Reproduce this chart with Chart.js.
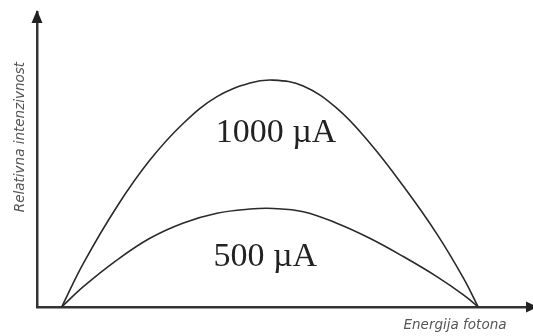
<!DOCTYPE html>
<html>
<head>
<meta charset="utf-8">
<script src="https://cdn.jsdelivr.net/npm/chart.js@4"></script>
<style>
html,body{margin:0;padding:0;background:#fff;}
#c{display:block;}
</style>
</head>
<body>
<canvas id="c" width="533" height="336"></canvas>
<script>
// Photon energy (arbitrary units)
const energy = [5.0, 9.4, 16.2, 22.9, 29.7, 36.5, 43.2, 47.9, 54.0, 60.8, 67.5, 74.3, 81.1, 86.5, 89.5];
// Relative intensity at 1000 µA
const intensity1000 = [0, 14.8, 34.0, 49.8, 62.3, 71.3, 75.9, 76.9, 74.9, 67.4, 55.6, 41.0, 24.8, 9.8, 0];
// Relative intensity at 500 µA
const intensity500 = [0, 6.9, 15.9, 23.3, 28.5, 31.8, 33.2, 33.4, 32.3, 28.4, 23.3, 17.1, 10.3, 4.1, 0];
const seriesLabels = ['1000 µA', '500 µA'];
const xTitle = 'Energija fotona';
const yTitle = 'Relativna intenzivnost';

const toPts = (xs, ys) => xs.map((x, i) => ({x: x, y: ys[i]}));

const decor = {
  id: 'decor',
  afterDraw(chart) {
    const {ctx, chartArea: a, scales: {x, y}} = chart;
    ctx.save();
    // arrows
    ctx.fillStyle = '#222';
    ctx.beginPath();
    ctx.moveTo(a.left, a.top - 2);
    ctx.lineTo(a.left - 5.5, a.top + 11);
    ctx.lineTo(a.left + 5.5, a.top + 11);
    ctx.closePath();
    ctx.fill();
    ctx.beginPath();
    ctx.moveTo(a.right + 8, a.bottom);
    ctx.lineTo(a.right - 4, a.bottom - 5.5);
    ctx.lineTo(a.right - 4, a.bottom + 5.5);
    ctx.closePath();
    ctx.fill();
    // series labels
    ctx.fillStyle = '#222';
    ctx.font = '34px "Liberation Serif", "Times New Roman", serif';
    ctx.textAlign = 'center';
    ctx.textBaseline = 'alphabetic';
    ctx.fillText(seriesLabels[0], x.getPixelForValue(48.5), y.getPixelForValue(55.9));
    ctx.fillText(seriesLabels[1], x.getPixelForValue(46.3), y.getPixelForValue(13.9));
    // axis titles
    ctx.fillStyle = '#555';
    ctx.font = 'italic 13.5px "DejaVu Sans", sans-serif';
    ctx.textBaseline = 'middle';
    ctx.fillText(xTitle, 455, a.bottom + 18);
    ctx.translate(20, 137);
    ctx.rotate(-Math.PI / 2);
    ctx.fillText(yTitle, 0, 0);
    ctx.restore();
  }
};

const axisOpts = (min, max) => ({
  type: 'linear', min: min, max: max,
  grid: {display: false, drawTicks: false},
  border: {display: true, color: '#333', width: 2.5},
  ticks: {display: false}
});

new Chart(document.getElementById('c'), {
  type: 'scatter',
  data: {
    datasets: [
      {label: seriesLabels[0], data: toPts(energy, intensity1000), showLine: true, borderColor: '#2a2a2a', borderWidth: 1.6, pointRadius: 0, tension: 0.4, fill: false},
      {label: seriesLabels[1], data: toPts(energy, intensity500), showLine: true, borderColor: '#2a2a2a', borderWidth: 1.6, pointRadius: 0, tension: 0.4, fill: false}
    ]
  },
  options: {
    responsive: false,
    animation: false,
    layout: {padding: {left: 37, top: 12, right: 3, bottom: 29}},
    plugins: {legend: {display: false}, tooltip: {enabled: false}},
    scales: {x: axisOpts(0, 100), y: axisOpts(0, 100)}
  },
  plugins: [decor]
});
</script>
</body>
</html>
